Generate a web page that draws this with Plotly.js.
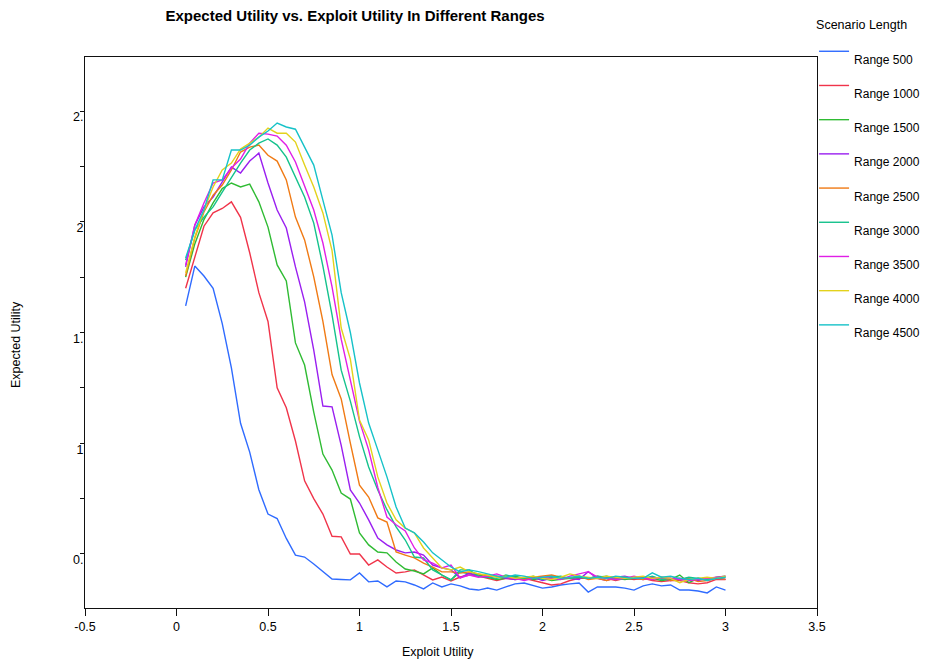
<!DOCTYPE html>
<html>
<head>
<meta charset="utf-8">
<script src="https://cdn.plot.ly/plotly-3.0.1.min.js"></script>
<style>html,body{margin:0;padding:0;background:#fff;}#chart{width:925px;height:662px;}</style>
</head>
<body>
<div id="chart"></div>
<script>
var exploitUtility = [0.05,0.1,0.15,0.2,0.25,0.3,0.35,0.4,0.45,0.5,0.55,0.6,0.65,0.7,0.75,0.8,0.85,0.9,0.95,1.0,
  1.05,1.1,1.15,1.2,1.25,1.3,1.35,1.4,1.45,1.5,1.55,1.6,1.65,1.7,1.75,1.8,1.85,1.9,1.95,2.0,
  2.05,2.1,2.15,2.2,2.25,2.3,2.35,2.4,2.45,2.5,2.55,2.6,2.65,2.7,2.75,2.8,2.85,2.9,2.95,3.0];

var range500 = [1.62,1.80,1.755,1.70,1.54,1.34,1.09,0.96,0.79,0.68,0.66,0.57,0.495,0.486,0.455,0.42,0.387,0.385,0.383,0.414,
  0.374,0.378,0.351,0.378,0.374,0.360,0.342,0.369,0.351,0.365,0.356,0.342,0.337,0.346,0.337,0.351,0.365,0.369,0.356,0.346,
  0.351,0.360,0.365,0.369,0.328,0.351,0.351,0.351,0.346,0.337,0.356,0.365,0.356,0.360,0.337,0.337,0.333,0.324,0.351,0.337];
var range1000 = [1.70,1.84,1.98,2.04,2.06,2.09,2.02,1.86,1.68,1.55,1.25,1.16,1.01,0.83,0.75,0.68,0.58,0.577,0.50,0.50,
  0.45,0.473,0.441,0.414,0.419,0.428,0.405,0.383,0.396,0.378,0.396,0.405,0.40,0.39,0.38,0.39,0.385,0.39,0.38,0.37,
  0.36,0.365,0.38,0.39,0.39,0.40,0.39,0.38,0.39,0.385,0.39,0.38,0.375,0.38,0.38,0.37,0.365,0.37,0.385,0.385];
var range1500 = [1.75,1.90,2.01,2.085,2.15,2.175,2.157,2.17,2.09,1.976,1.805,1.733,1.453,1.353,1.141,0.951,0.879,0.775,0.748,0.595,
  0.541,0.509,0.505,0.464,0.432,0.423,0.41,0.437,0.405,0.383,0.419,0.41,0.405,0.395,0.385,0.39,0.40,0.39,0.385,0.39,
  0.38,0.385,0.39,0.40,0.39,0.395,0.40,0.39,0.385,0.39,0.395,0.39,0.38,0.385,0.405,0.37,0.39,0.385,0.395,0.40];
var range2000 = [1.796,1.985,2.067,2.112,2.18,2.247,2.22,2.274,2.31,2.175,2.053,1.972,1.796,1.638,1.42,1.168,1.164,0.99,0.789,0.73,
  0.654,0.572,0.541,0.518,0.505,0.509,0.495,0.45,0.437,0.428,0.392,0.414,0.40,0.395,0.40,0.39,0.385,0.39,0.395,0.38,
  0.39,0.395,0.39,0.385,0.42,0.39,0.38,0.395,0.40,0.39,0.385,0.395,0.39,0.38,0.39,0.385,0.38,0.39,0.39,0.385];
var range2500 = [1.755,1.926,2.044,2.12,2.166,2.234,2.315,2.337,2.346,2.30,2.274,2.189,2.021,1.918,1.751,1.55,1.31,1.20,1.00,0.811,
  0.757,0.663,0.644,0.509,0.495,0.482,0.459,0.441,0.419,0.419,0.414,0.419,0.41,0.40,0.40,0.395,0.39,0.385,0.395,0.40,
  0.405,0.395,0.39,0.40,0.385,0.39,0.38,0.39,0.395,0.39,0.385,0.39,0.395,0.38,0.385,0.39,0.375,0.38,0.39,0.385];
var range3000 = [1.827,1.963,2.021,2.067,2.134,2.202,2.265,2.324,2.355,2.374,2.346,2.292,2.202,2.112,1.994,1.80,1.58,1.33,1.19,1.03,
  0.893,0.789,0.70,0.622,0.563,0.486,0.482,0.428,0.405,0.383,0.428,0.428,0.40,0.395,0.39,0.405,0.395,0.39,0.40,0.385,
  0.395,0.40,0.39,0.395,0.39,0.40,0.395,0.385,0.39,0.395,0.39,0.40,0.385,0.39,0.385,0.395,0.39,0.385,0.39,0.395];
var range3500 = [1.805,1.985,2.085,2.175,2.189,2.243,2.283,2.355,2.40,2.396,2.387,2.346,2.27,2.157,2.053,1.904,1.706,1.47,1.29,1.10,
  0.97,0.80,0.667,0.632,0.604,0.527,0.473,0.459,0.437,0.45,0.392,0.405,0.395,0.40,0.41,0.395,0.39,0.38,0.39,0.395,
  0.39,0.385,0.40,0.41,0.42,0.395,0.39,0.385,0.39,0.40,0.39,0.385,0.395,0.39,0.385,0.38,0.385,0.39,0.395,0.40];
var range4000 = [1.769,1.931,2.053,2.157,2.234,2.265,2.328,2.355,2.382,2.423,2.40,2.40,2.36,2.256,2.157,2.04,1.87,1.52,1.38,1.105,
  1.015,0.848,0.73,0.654,0.617,0.595,0.527,0.482,0.437,0.428,0.441,0.419,0.41,0.405,0.395,0.40,0.39,0.395,0.40,0.39,
  0.385,0.395,0.41,0.40,0.395,0.39,0.40,0.395,0.39,0.395,0.40,0.39,0.395,0.39,0.37,0.385,0.39,0.395,0.39,0.40];
var range4500 = [1.836,1.963,2.053,2.189,2.189,2.324,2.324,2.346,2.382,2.41,2.446,2.428,2.418,2.337,2.256,2.098,1.94,1.68,1.50,1.272,
  1.091,0.97,0.848,0.712,0.617,0.595,0.554,0.505,0.473,0.441,0.419,0.428,0.42,0.41,0.40,0.395,0.405,0.40,0.39,0.395,
  0.40,0.39,0.395,0.40,0.39,0.395,0.39,0.40,0.395,0.39,0.39,0.415,0.395,0.40,0.39,0.385,0.39,0.38,0.39,0.395];

var seriesNames = ['Range 500','Range 1000','Range 1500','Range 2000','Range 2500','Range 3000','Range 3500','Range 4000','Range 4500'];
var seriesValues = [range500, range1000, range1500, range2000, range2500, range3000, range3500, range4000, range4500];
var seriesColors = ['#2f6bff','#f0344a','#2fbb33','#9a1ff0','#f07a14','#14c28c','#e01ee6','#e3d21c','#16c2c8'];

var xTickVals = [-0.5,0,0.5,1,1.5,2,2.5,3,3.5];
var xTickText = ['-0.5','0','0.5','1','1.5','2','2.5','3','3.5'];
var yTickVals = [0.5,0.75,1,1.25,1.5,1.75,2,2.25,2.5];
var yTickText = ['0.','','1','','1.','','2','','2.'];

var FONT = 'Liberation Sans, Arial, Helvetica, sans-serif';

var traces = seriesNames.map(function(name, i){
  return {
    type: 'scatter', mode: 'lines',
    x: exploitUtility, y: seriesValues[i],
    name: '<br>' + name,
    line: {color: seriesColors[i], width: 1.4}
  };
});

var layout = {
  width: 925, height: 662,
  margin: {l: 85, r: 108, t: 57, b: 54, autoexpand: false},
  paper_bgcolor: '#fff', plot_bgcolor: '#fff',
  font: {family: FONT, size: 12.5, color: '#000'},
  title: {text: '<b>Expected Utility vs. Exploit Utility In Different Ranges</b>',
    font: {family: FONT, size: 15, color: '#000'},
    x: 0.369, xref: 'paper', xanchor: 'center', y: 1 - 16/662, yref: 'container', yanchor: 'middle'},
  xaxis: {range: [-0.5, 3.5], tickmode: 'array', tickvals: xTickVals, ticktext: xTickText,
    ticks: 'outside', ticklen: 7, tickwidth: 1, tickcolor: '#111',
    showline: true, mirror: true, linecolor: '#111', linewidth: 1,
    showgrid: false, zeroline: false, tickfont: {size: 12.5}, automargin: false},
  yaxis: {range: [0.256, 2.744], tickmode: 'array', tickvals: yTickVals, ticktext: yTickText,
    ticks: 'outside', ticklen: 4, tickwidth: 1, tickcolor: '#111',
    showline: true, mirror: true, linecolor: '#111', linewidth: 1,
    showgrid: false, zeroline: false, tickfont: {size: 12.5}, automargin: false,
    ticklabelstandoff: -6, ticklabelshift: 6},
  legend: {x: 0.996, xanchor: 'left', y: 1.08, yanchor: 'top',
    title: {text: 'Scenario Length', font: {size: 12.5}},
    font: {size: 12}, bgcolor: 'rgba(0,0,0,0)', borderwidth: 0},
  annotations: [
    {text: 'Exploit Utility', xref: 'paper', yref: 'paper', x: (438-85)/732, y: (608-652)/551,
     xanchor: 'center', yanchor: 'middle', showarrow: false, font: {size: 12.5}},
    {text: 'Expected Utility', xref: 'paper', yref: 'paper', x: (16-85)/732, y: (608-345)/551,
     xanchor: 'center', yanchor: 'middle', showarrow: false, textangle: -90, font: {size: 12.5}}
  ],
  showlegend: true
};

Plotly.newPlot('chart', traces, layout, {displayModeBar: false, staticPlot: true});
</script>
</body>
</html>
